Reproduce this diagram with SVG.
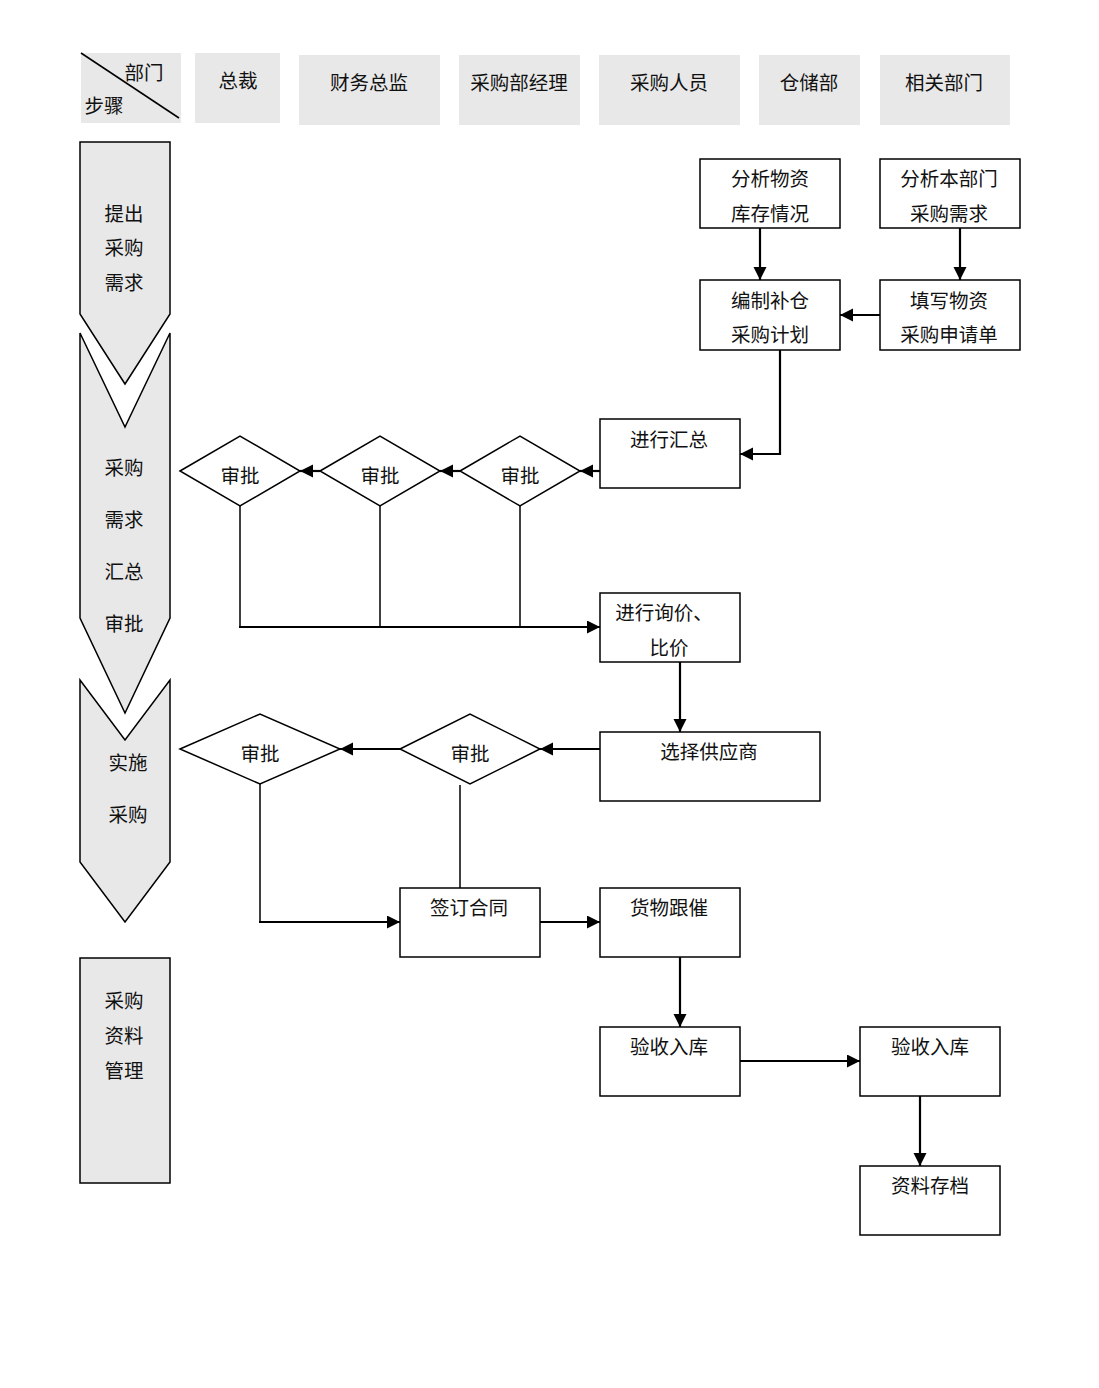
<svg xmlns="http://www.w3.org/2000/svg" width="1099" height="1388" viewBox="0 0 1099 1388">
<defs>
<style>
text{font-family:"Liberation Serif","Noto Sans CJK SC",serif;font-size:19.5px;fill:#111;text-anchor:middle}
.hd{fill:#e8e8e8;stroke:none}
.chev{fill:#e8e8e8;stroke:#000;stroke-width:1.5}
.box{fill:#fff;stroke:#000;stroke-width:1.5}
.dia{fill:#fff;stroke:#000;stroke-width:1.5}
.con{fill:none;stroke:#000;stroke-width:2.2}
.thin{fill:none;stroke:#000;stroke-width:1.5}
</style>
<marker id="ah" markerUnits="userSpaceOnUse" markerWidth="15" markerHeight="15" refX="13" refY="6.5" orient="auto">
<path d="M0,0 L13,6.5 L0,13 z" fill="#000"/>
</marker>
</defs>
<rect width="1099" height="1388" fill="#fff"/>

<g id="header">
<g id="h-corner"><rect class="hd" x="81" y="53" width="100" height="70"/><line x1="81" y1="53" x2="179" y2="118" stroke="#000" stroke-width="1.5"/><text x="144" y="80">部门</text><text x="104" y="113">步骤</text></g>
<g id="h-zongcai"><rect class="hd" x="195" y="53" width="85" height="70"/><text x="238" y="88">总裁</text></g>
<g id="h-caiwu"><rect class="hd" x="299" y="55" width="141" height="70"/><text x="369" y="90">财务总监</text></g>
<g id="h-jingli"><rect class="hd" x="459" y="55" width="121" height="70"/><text x="519" y="90">采购部经理</text></g>
<g id="h-renyuan"><rect class="hd" x="599" y="55" width="141" height="70"/><text x="669" y="90">采购人员</text></g>
<g id="h-cangchu"><rect class="hd" x="759" y="55" width="101" height="70"/><text x="809" y="90">仓储部</text></g>
<g id="h-xiangguan"><rect class="hd" x="880" y="55" width="130" height="70"/><text x="944" y="90">相关部门</text></g>
</g>

<g id="steps">
<g id="s1"><path class="chev" d="M80,142 L170,142 L170,314 L125,384 L80,314 Z"/><text x="124" y="221">提出</text><text x="124" y="255">采购</text><text x="124" y="290">需求</text></g>
<g id="s2"><path class="chev" d="M80,333 L125,427 L170,333 L170,618 L125,713 L80,618 Z"/><text x="124" y="475">采购</text><text x="124" y="527">需求</text><text x="124" y="579">汇总</text><text x="124" y="631">审批</text></g>
<g id="s3"><path class="chev" d="M80,680 L125,740 L170,680 L170,862 L125,922 L80,862 Z"/><text x="128" y="770">实施</text><text x="128" y="822">采购</text></g>
<g id="s4"><rect class="chev" x="80" y="958" width="90" height="225"/><text x="124" y="1008">采购</text><text x="124" y="1043">资料</text><text x="124" y="1078">管理</text></g>
</g>

<g id="connectors">
<line class="con" x1="760" y1="228" x2="760" y2="280" marker-end="url(#ah)"/>
<line class="con" x1="960" y1="228" x2="960" y2="280" marker-end="url(#ah)"/>
<line class="con" x1="880" y1="315" x2="840" y2="315" marker-end="url(#ah)"/>
<polyline class="con" points="780,350 780,454 740,454" marker-end="url(#ah)"/>
<line class="con" x1="600" y1="471" x2="580" y2="471" marker-end="url(#ah)"/>
<line class="con" x1="460" y1="471" x2="440" y2="471" marker-end="url(#ah)"/>
<line class="con" x1="320" y1="471" x2="300" y2="471" marker-end="url(#ah)"/>
<line class="thin" x1="240" y1="506" x2="240" y2="627"/>
<line class="thin" x1="380" y1="506" x2="380" y2="627"/>
<line class="thin" x1="520" y1="506" x2="520" y2="627"/>
<line class="con" x1="239" y1="627" x2="600" y2="627" marker-end="url(#ah)"/>
<line class="con" x1="680" y1="662" x2="680" y2="732" marker-end="url(#ah)"/>
<line class="con" x1="600" y1="749" x2="540" y2="749" marker-end="url(#ah)"/>
<line class="con" x1="400" y1="749" x2="340" y2="749" marker-end="url(#ah)"/>
<polyline class="thin" points="260,784 260,922 290,922"/>
<line class="con" x1="259" y1="922" x2="400" y2="922" marker-end="url(#ah)"/>
<line class="thin" x1="460" y1="785" x2="460" y2="888"/>
<line class="con" x1="540" y1="922" x2="600" y2="922" marker-end="url(#ah)"/>
<line class="con" x1="680" y1="957" x2="680" y2="1027" marker-end="url(#ah)"/>
<line class="con" x1="740" y1="1061" x2="860" y2="1061" marker-end="url(#ah)"/>
<line class="con" x1="920" y1="1096" x2="920" y2="1166" marker-end="url(#ah)"/>
</g>

<g id="n-fenxi-wuzi"><rect class="box" x="700" y="159" width="140" height="69"/><text x="770" y="186">分析物资</text><text x="770" y="221">库存情况</text></g>
<g id="n-fenxi-bumen"><rect class="box" x="880" y="159" width="140" height="69"/><text x="949" y="186">分析本部门</text><text x="949" y="221">采购需求</text></g>
<g id="n-bianzhi"><rect class="box" x="700" y="280" width="140" height="70"/><text x="770" y="308">编制补仓</text><text x="770" y="342">采购计划</text></g>
<g id="n-tianxie"><rect class="box" x="880" y="280" width="140" height="70"/><text x="949" y="308">填写物资</text><text x="949" y="342">采购申请单</text></g>
<g id="n-huizong"><rect class="box" x="600" y="419" width="140" height="69"/><text x="669" y="447">进行汇总</text></g>
<g id="d1"><polygon class="dia" points="180,471 240,436 300,471 240,506"/><text x="240" y="483">审批</text></g>
<g id="d2"><polygon class="dia" points="320,471 380,436 440,471 380,506"/><text x="380" y="483">审批</text></g>
<g id="d3"><polygon class="dia" points="460,471 520,436 580,471 520,506"/><text x="520" y="483">审批</text></g>
<g id="n-xunjia"><rect class="box" x="600" y="593" width="140" height="69"/><text x="664" y="620">进行询价、</text><text x="669" y="655">比价</text></g>
<g id="n-gongyingshang"><rect class="box" x="600" y="732" width="220" height="69"/><text x="709" y="759">选择供应商</text></g>
<g id="d4"><polygon class="dia" points="180,749 260,714 340,749 260,784"/><text x="260" y="761">审批</text></g>
<g id="d5"><polygon class="dia" points="400,749 470,714 540,749 470,784"/><text x="470" y="761">审批</text></g>
<g id="n-hetong"><rect class="box" x="400" y="888" width="140" height="69"/><text x="469" y="915">签订合同</text></g>
<g id="n-gencui"><rect class="box" x="600" y="888" width="140" height="69"/><text x="669" y="915">货物跟催</text></g>
<g id="n-yanshou1"><rect class="box" x="600" y="1027" width="140" height="69"/><text x="669" y="1054">验收入库</text></g>
<g id="n-yanshou2"><rect class="box" x="860" y="1027" width="140" height="69"/><text x="930" y="1054">验收入库</text></g>
<g id="n-cundang"><rect class="box" x="860" y="1166" width="140" height="69"/><text x="930" y="1193">资料存档</text></g>
</svg>
